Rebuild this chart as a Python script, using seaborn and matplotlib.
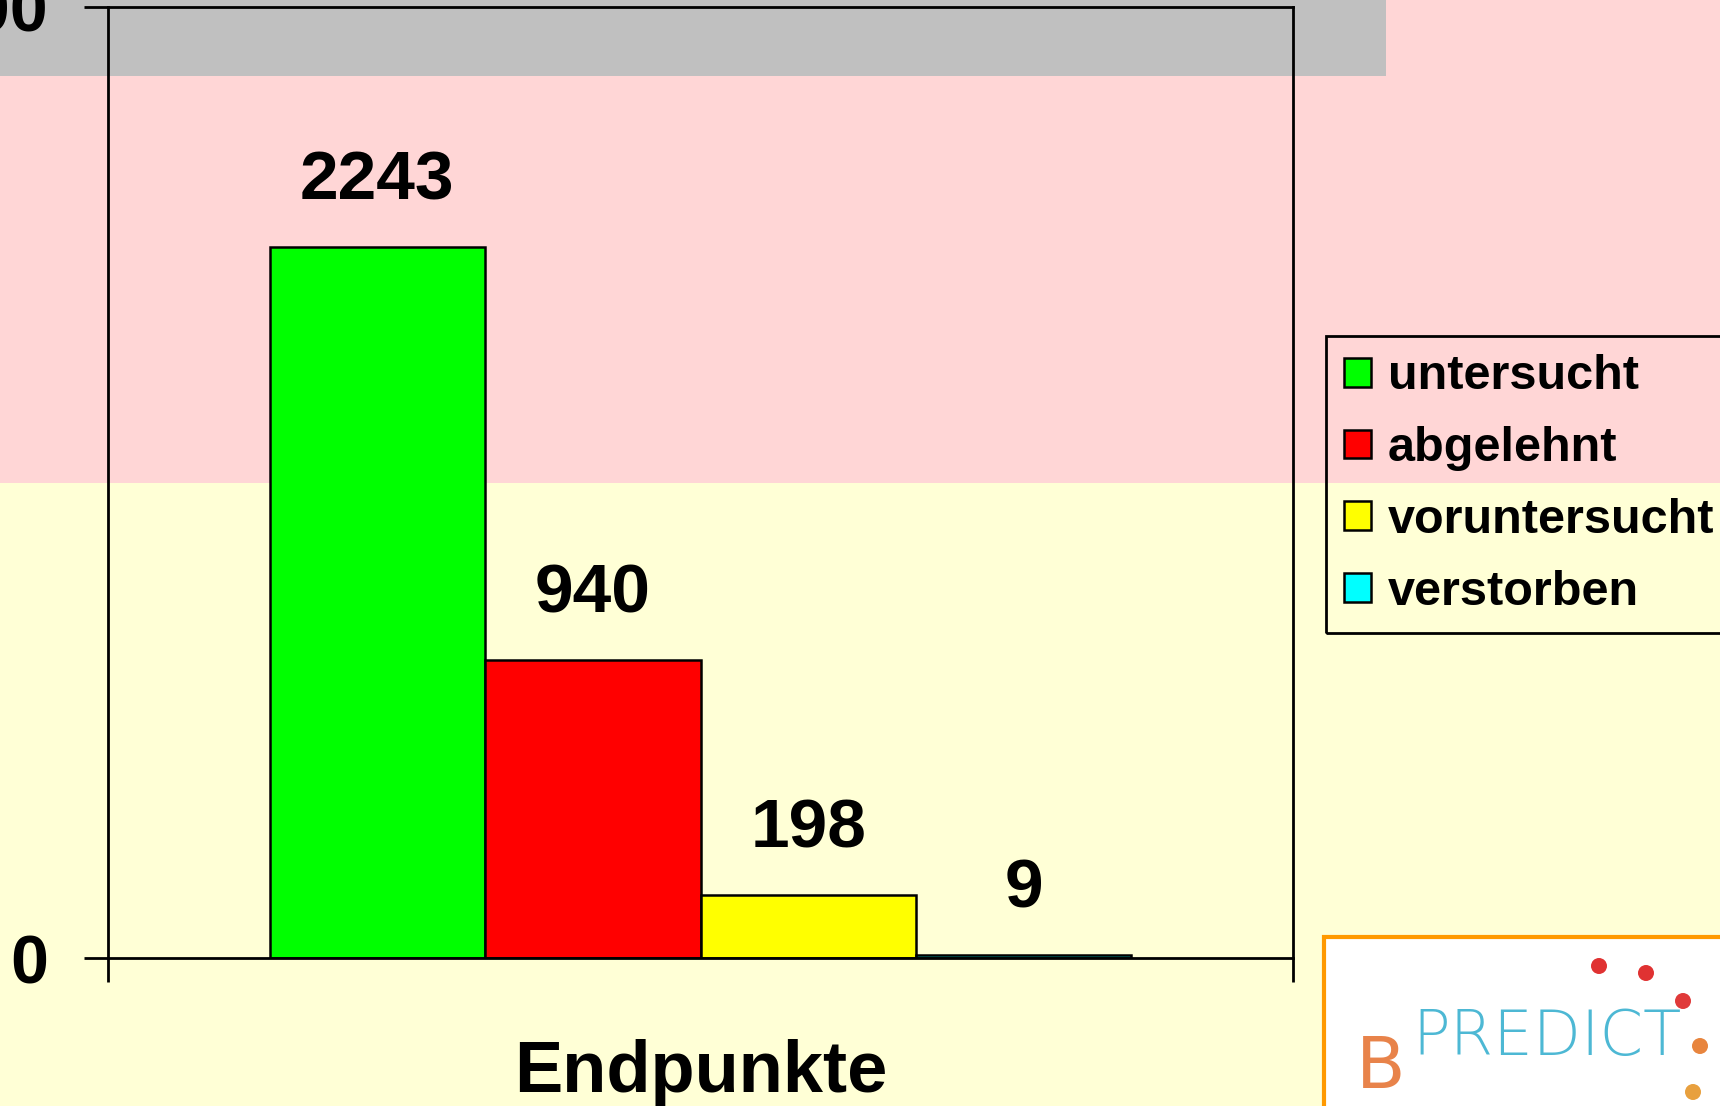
import matplotlib
matplotlib.use("Agg")
import matplotlib.pyplot as plt
from matplotlib.patches import Patch, Rectangle, Circle
import seaborn as sns
import pandas as pd

# Study endpoints
group = "Endpunkte"
statuses = ["untersucht", "abgelehnt", "voruntersucht", "verstorben"]
counts = [2243, 940, 198, 9]
colors = ["#00FF00", "#FF0000", "#FFFF00", "#00FFFF"]
y_ticks = [0, 3000]

sns.set_style("white")
plt.rcParams["font.family"] = ["Liberation Sans", "DejaVu Sans"]
plt.rcParams["text.color"] = "black"
plt.rcParams["xtick.color"] = "black"
plt.rcParams["ytick.color"] = "black"
plt.rcParams["axes.labelcolor"] = "black"

df = pd.DataFrame({"gruppe": [group] * len(statuses),
                   "status": statuses,
                   "anzahl": counts})
palette = dict(zip(statuses, colors))

W, H = 1720, 1106
fig = plt.figure(figsize=(W / 100, H / 100), dpi=100)

# slide background: grey title strip, pink and pale yellow bands, logo
bg = fig.add_axes([0, 0, 1, 1], zorder=0)
bg.set_xlim(0, W)
bg.set_ylim(H, 0)
bg.axis("off")
bg.add_patch(Rectangle((0, 483), W, H - 483, color="#FFFFD6", lw=0))
bg.add_patch(Rectangle((0, 0), W, 483, color="#FFD6D6", lw=0))
bg.add_patch(Rectangle((0, 0), 1386, 76, color="#C0C0C0", lw=0))
bg.add_patch(Rectangle((1324, 937), 420, 200, facecolor="white",
                       edgecolor="#FF9900", lw=3))
bg.text(1412, 1055, "PREDICT", color="#4DB8D4", fontsize=45,
        family="DejaVu Sans", fontweight="light", ha="left", va="baseline")
bg.text(1356, 1088, "B", color="#E8834A", fontsize=52,
        family="DejaVu Sans", ha="left", va="baseline")
for (cx, cy, c) in [(1599, 966, "#E03232"), (1646, 973, "#E03232"),
                    (1683, 1001, "#E03A3A"), (1700, 1046, "#E8853E"),
                    (1693, 1092, "#E8A03E")]:
    bg.add_patch(Circle((cx, cy), 8, color=c, lw=0))

ax = fig.add_axes([108 / W, 1 - 958 / H, (1293 - 108) / W, (958 - 7) / H],
                  zorder=1)
ax.set_facecolor("none")

sns.barplot(data=df, x="gruppe", y="anzahl", hue="status",
            hue_order=statuses, palette=palette, saturation=1,
            edgecolor="black", linewidth=1.8, legend=False, ax=ax)

for cont, val in zip(ax.containers, counts):
    ax.bar_label(cont, labels=[f"{val}"], padding=24, fontsize=50,
                 fontweight="bold", color="black")

ax.set_xlim(-0.55, 0.55)
ax.set_ylim(0, 3000)
ax.set_yticks(y_ticks)
ax.set_yticklabels([str(t) for t in y_ticks], fontsize=49, fontweight="bold")
ax.tick_params(axis="y", direction="out", length=17, width=2,
               pad=26, left=True, colors="black")

ax.set_xticks([0])
ax.set_xticklabels([group], fontsize=52, fontweight="bold", color="black")
ax.tick_params(axis="x", which="major", length=0, pad=58)
ax.set_xticks([-0.55, 0.55], minor=True)
ax.tick_params(axis="x", which="minor", direction="out", length=17,
               width=2, bottom=True, color="black")
ax.set_xlabel("")
ax.set_ylabel("")

for s in ax.spines.values():
    s.set_visible(True)
    s.set_color("black")
    s.set_linewidth(2)

handles = [Patch(facecolor=c, edgecolor="black", linewidth=1.8, label=s)
           for s, c in zip(statuses, colors)]
leg = fig.legend(handles=handles, loc="upper left",
                 bbox_to_anchor=(1326 / W, 1 - 336 / H),
                 prop={"size": 35, "weight": "bold"},
                 frameon=True, fancybox=False, framealpha=1,
                 edgecolor="black", borderpad=0.38, labelspacing=0.55,
                 handlelength=0.54, handleheight=0.54, handletextpad=0.35,
                 borderaxespad=0)
leg.get_frame().set_facecolor("none")
leg.get_frame().set_linewidth(2)
for t in leg.get_texts():
    t.set_color("black")
leg.set_zorder(5)

fig.savefig("out.png", dpi=100)
